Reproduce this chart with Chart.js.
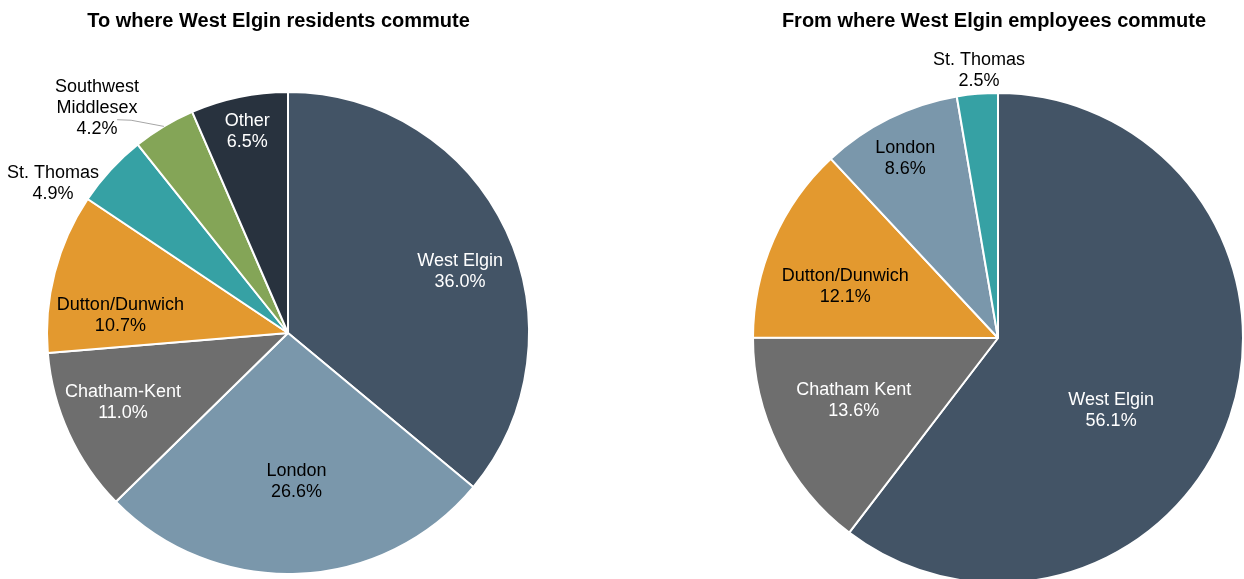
<!DOCTYPE html>
<html>
<head>
<meta charset="utf-8">
<script src="https://cdn.jsdelivr.net/npm/chart.js@4.4.0/dist/chart.umd.min.js"></script>
<style>
  html, body { margin: 0; padding: 0; background: #ffffff; overflow: hidden; width: 1244px; height: 579px; }
  canvas { position: absolute; top: 0; }
  #c1 { left: 0; }
  #c2 { left: 620px; }
</style>
</head>
<body>
<canvas id="c1" width="620" height="579"></canvas>
<canvas id="c2" width="624" height="590"></canvas>
<script>
// ---- data ----
const leftTitle = 'To where West Elgin residents commute';
const leftCategories = ['West Elgin', 'London', 'Chatham-Kent', 'Dutton/Dunwich', 'St. Thomas', 'Southwest\nMiddlesex', 'Other'];
const leftValues = [36.0, 26.6, 11.0, 10.7, 4.9, 4.2, 6.5];

const rightTitle = 'From where West Elgin employees commute';
const rightCategories = ['West Elgin', 'Chatham Kent', 'Dutton/Dunwich', 'London', 'St. Thomas'];
const rightValues = [56.1, 13.6, 12.1, 8.6, 2.5];

// ---- styles ----
const palette = {
  'West Elgin': '#435466',
  'London': '#7a97ab',
  'Chatham-Kent': '#6e6e6e',
  'Chatham Kent': '#6e6e6e',
  'Dutton/Dunwich': '#e3992f',
  'St. Thomas': '#36a1a4',
  'Southwest\nMiddlesex': '#84a557',
  'Other': '#28323e'
};
const whiteText = ['West Elgin', 'Chatham-Kent', 'Chatham Kent', 'Other'];

// label placement: [radius fraction, angle nudge in degrees from slice middle]
const leftPlacement = [[0.76, 5.1], [0.61, -1.0], [0.74, 2.3], [0.70, -8.0], [1.16, -9.8], [1.23, -9.1], [0.86, 0.4]];
const rightPlacement = [[0.545, 13.4], [0.64, 3.2], [0.66, -4.4], [0.83, -0.8], [1.10, 0.8]];
const leftLeader = [false, false, false, false, false, true, false];
const rightLeader = [false, false, false, false, false];

const LABEL_FONT = "18px 'Liberation Sans', Arial, sans-serif";
const TITLE_FONT = "bold 20px 'Liberation Sans', Arial, sans-serif";
const LINE_H = 21;

function labelPlugin(categories, values, placement, leaders, title, titleX) {
  return {
    id: 'pieLabels',
    afterDatasetsDraw(chart) {
      const ctx = chart.ctx;
      const meta = chart.getDatasetMeta(0);
      ctx.save();
      ctx.font = LABEL_FONT;
      ctx.textAlign = 'center';
      ctx.textBaseline = 'alphabetic';
      meta.data.forEach((arc, i) => {
        const p = arc.getProps(['x', 'y', 'startAngle', 'endAngle', 'outerRadius'], true);
        const mid = (p.startAngle + p.endAngle) / 2;
        const a = mid + placement[i][1] * Math.PI / 180;
        const r = p.outerRadius * placement[i][0];
        const cx = p.x + r * Math.cos(a);
        const cy = p.y + r * Math.sin(a);
        const lines = categories[i].split('\n').concat([values[i].toFixed(1) + '%']);
        const n = lines.length;
        ctx.fillStyle = whiteText.includes(categories[i]) ? '#ffffff' : '#000000';
        lines.forEach((t, k) => {
          ctx.fillText(t, cx, cy + 6.5 + (k - (n - 1) / 2) * LINE_H);
        });
        if (leaders[i]) {
          const ex = p.x + p.outerRadius * Math.cos(mid);
          const ey = p.y + p.outerRadius * Math.sin(mid);
          ctx.beginPath();
          ctx.strokeStyle = '#a6a6a6';
          ctx.lineWidth = 1;
          ctx.moveTo(ex, ey);
          ctx.lineTo(cx + 34, cy + 14);
          ctx.lineTo(cx + 20, cy + 13.5);
          ctx.stroke();
        }
      });
      ctx.font = TITLE_FONT;
      ctx.fillStyle = '#000000';
      ctx.fillText(title, titleX, 27);
      ctx.restore();
    }
  };
}

function makePie(id, categories, values, placement, leaders, title, titleX, padding) {
  new Chart(document.getElementById(id), {
    type: 'pie',
    data: {
      labels: categories,
      datasets: [{
        data: values,
        backgroundColor: categories.map(c => palette[c]),
        borderColor: '#ffffff',
        borderWidth: 2
      }]
    },
    options: {
      responsive: false,
      animation: false,
      events: [],
      layout: { padding: padding },
      plugins: { legend: { display: false }, tooltip: { enabled: false }, title: { display: false } }
    },
    plugins: [labelPlugin(categories, values, placement, leaders, title, titleX)]
  });
}

makePie('c1', leftCategories, leftValues, leftPlacement, leftLeader, leftTitle, 278.5,
  { left: 46, top: 91, right: 90, bottom: 4 });
makePie('c2', rightCategories, rightValues, rightPlacement, rightLeader, rightTitle, 374,
  { left: 132, top: 92, right: 0, bottom: 6 });
</script>
</body>
</html>
